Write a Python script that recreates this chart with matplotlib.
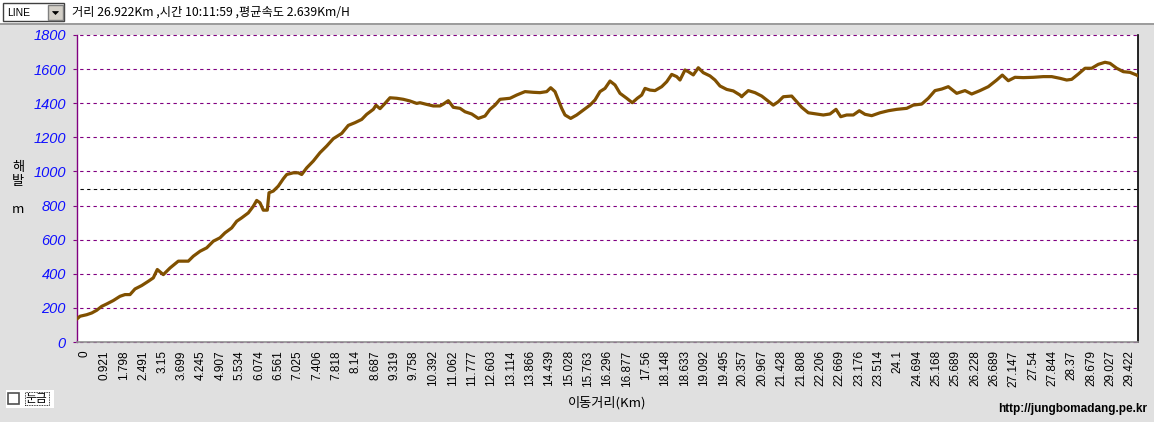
import matplotlib
matplotlib.use('Agg')
import matplotlib.pyplot as plt
from matplotlib.patches import Rectangle, Polygon
import numpy as np

W, H = 1154, 422

# ---- data ----
track_pos = [0.3, 3, 9.7, 14.7, 19.7, 24.7, 29.7, 36.3, 43, 48, 53, 58, 64.7, 71.3, 76.3, 80.3,
             86.3, 93, 101.3, 111.3, 116.3, 123, 129.7, 136.3, 143, 148, 154.7, 159.7, 164.7,
             171.3, 176.3, 179.7, 183, 186.3, 190.3, 192, 196.3, 201.3, 206.3, 209.7, 216.3,
             221.3, 224.7, 229.7, 236.3, 243, 249.7, 256.3, 264.7, 271.3, 278, 284.7, 289.7,
             296.3, 299, 303, 308, 313, 319.7, 326.3, 333, 339.7, 343,
             349.7, 356.3, 363, 366.3, 371.3, 376.3, 383, 388, 394.7, 401.3, 408, 413, 418,
             423, 433, 439.7, 448, 456.3, 463, 469.7, 473.7, 478, 481.3, 484.7, 488, 493.7,
             499.7, 506.3, 513, 518, 523, 528, 533, 538, 543, 549.7, 555.3, 560.3, 564.7,
             568, 573, 578, 584.7, 589.7, 594.7, 599.7, 603, 608, 611.3, 616.3, 621.3, 626.3,
             633, 638, 643, 649.7, 656.3, 663, 664.7, 666.3, 671.3, 678, 684.7, 689.7, 696.3,
             701.3,
             706.3, 714.7, 719.7, 724.7, 731.3, 739.7, 746.3, 753, 759, 763.7, 769.7, 776.3,
             782.3, 788, 794.7, 803, 811.3, 819.7, 829.7, 836.3, 844.7, 851.3, 858, 864.7,
             871.3, 879.7, 888, 894.7, 903, 911.3, 919.7, 925.3, 931.3, 938, 946.3, 956.3,
             966.3, 974.7, 983, 989.7, 994.7, 1001.3, 1008, 1014.7, 1021.3, 1028, 1033,
             1039.7, 1046.3, 1053, 1059.7, 1061]
elevation_m = [137, 151, 160, 170, 186, 209, 223, 243, 268, 278, 278, 311, 331, 356, 376, 425,
               395, 434, 474, 474, 503, 532, 552, 591, 611, 640, 669, 708, 728,
               757, 796, 830, 816, 773, 773, 875, 885, 914, 957, 982, 992,
               992, 982, 1021, 1061, 1110, 1149, 1192, 1223, 1270, 1286, 1305, 1335,
               1364, 1388, 1368, 1399, 1432, 1429, 1423, 1413, 1399, 1403,
               1393, 1384, 1384, 1395, 1415, 1376, 1370, 1350, 1337, 1311, 1325, 1364, 1389,
               1423, 1429, 1448, 1468, 1464, 1462, 1468, 1491, 1468, 1419, 1370, 1331, 1311,
               1331, 1360, 1389, 1419, 1468, 1487, 1530, 1507, 1458, 1429, 1403, 1429, 1448,
               1487, 1477, 1474, 1497, 1526, 1569, 1556, 1536, 1595, 1585, 1566, 1608, 1579,
               1560, 1536, 1501, 1481, 1472, 1448, 1438, 1448, 1474, 1462, 1442, 1419, 1389,
               1409,
               1438, 1442, 1409, 1376, 1344, 1337, 1331, 1337, 1364, 1321, 1331, 1331,
               1356, 1335, 1327, 1344, 1356, 1364, 1370, 1389, 1395, 1429, 1474, 1483,
               1497, 1458, 1474, 1454, 1474, 1497, 1536, 1565, 1532, 1552, 1550, 1552,
               1556, 1556, 1546, 1536, 1540, 1571, 1605, 1605, 1628, 1640, 1634,
               1605, 1585, 1581, 1565, 1560]
distance_labels = ['0', '0.921', '1.798', '2.491', '3.15', '3.699', '4.245', '4.907', '5.534',
                   '6.074', '6.561', '7.025', '7.406', '7.818', '8.14', '8.687', '9.319', '9.758',
                   '10.392', '11.062', '11.777', '12.603', '13.114', '13.866', '14.439', '15.028',
                   '15.763', '16.296', '16.877', '17.56', '18.148', '18.633', '19.092', '19.495',
                   '20.357', '20.967', '21.428', '21.808', '22.206', '22.669', '23.176', '23.514',
                   '24.1', '24.694', '25.168', '25.689', '26.228', '26.689', '27.147', '27.54',
                   '27.844', '28.37', '28.679', '29.027', '29.422']
y_ticks = [0, 200, 400, 600, 800, 1000, 1200, 1400, 1600, 1800]
ref_level = 900

status_text = '거리 26.922Km ,시간 10:11:59 ,평균속도 2.639Km/H'

# ---- figure ----
fig = plt.figure(figsize=(W / 100, H / 100), dpi=100)
fig.patch.set_facecolor('#e0e0e0')

def fx(px):
    return px / W

def fy(py):
    return 1 - py / H

KR = ['Noto Sans CJK KR', 'DejaVu Sans']

# top bar
fig.add_artist(Rectangle((0, fy(23)), 1, 23 / H, transform=fig.transFigure,
                         facecolor='white', edgecolor='none'))
fig.add_artist(plt.Line2D([0, 1], [fy(23.5), fy(23.5)], transform=fig.transFigure,
                          color='#909090', lw=1.2))
# combobox
fig.add_artist(Rectangle((fx(3), fy(21)), fx(61), 18 / H, transform=fig.transFigure,
                         facecolor='white', edgecolor='#404040', lw=1))
fig.text(fx(7), fy(12.5), 'LINE', fontsize=7.5, family='Liberation Sans', va='center', ha='left')
fig.add_artist(Rectangle((fx(48), fy(20)), fx(15), 15 / H, transform=fig.transFigure,
                         facecolor='#d4d0c8', edgecolor='#808080', lw=1))
fig.add_artist(Polygon([[fx(52.5), fy(11.5)], [fx(58.5), fy(11.5)], [fx(55.5), fy(14.5)]],
                       closed=True, transform=fig.transFigure, facecolor='black',
                       edgecolor='black', lw=0.5))
fig.text(fx(72), fy(12.5), status_text, fontsize=8.8, family=KR, va='center', ha='left')

# axes
ax = fig.add_axes([fx(77), (H - 342) / H, (1138 - 77) / W, (342 - 35) / H])
ax.set_facecolor('white')
ax.set_xlim(0, 1061)
ax.set_ylim(0, 1800)

for v in y_ticks:
    ax.axhline(v, xmin=-4 / 1061, xmax=1, color='#800080', lw=0.8,
               ls=(0, (3, 3)), clip_on=False, zorder=1)
ax.axhline(ref_level, xmin=3 / 1061, xmax=1, color='black', lw=0.8,
           ls=(0, (3, 3)), zorder=1)

ax.plot(track_pos, elevation_m, color='#805000', lw=2.3, zorder=3)

for s in ['top']:
    ax.spines[s].set_visible(False)
ax.spines['left'].set_color('#800080')
ax.spines['left'].set_linewidth(1.0)
ax.spines['bottom'].set_color('#909090')
ax.spines['bottom'].set_linewidth(1.2)
ax.spines['right'].set_color('black')
ax.spines['right'].set_linewidth(1.2)

ax.set_yticks(y_ticks)
ax.set_yticklabels([str(v) for v in y_ticks], color='#1010ff', style='italic',
                   family='Liberation Sans', fontsize=10.5)
ax.tick_params(axis='y', length=0, pad=8)

tick_pos = 8 + 19.35 * np.arange(len(distance_labels))
ax.set_xticks(tick_pos)
ax.set_xticklabels(distance_labels, rotation=90, family='Liberation Sans', fontsize=8.5,
                   va='top', ha='center')
ax.tick_params(axis='x', length=0, pad=6)

# axis titles
fig.text(fx(18), fy(168), '해', fontsize=9.5, family=KR, ha='center', va='center')
fig.text(fx(18), fy(182), '발', fontsize=9.5, family=KR, ha='center', va='center')
fig.text(fx(18), fy(210), 'm', fontsize=9.5, family=KR, ha='center', va='center')
fig.text(fx(607), fy(403), '이동거리(Km)', fontsize=9.5, family=KR, ha='center', va='center')

# url
fig.text(fx(1147), fy(409), 'http://jungbomadang.pe.kr', fontsize=8.5, weight='bold',
         family='Liberation Sans', ha='right', va='center')

# checkbox
fig.add_artist(Rectangle((fx(6), fy(408)), fx(48), 18 / H, transform=fig.transFigure,
                         facecolor='white', edgecolor='none'))
fig.add_artist(Rectangle((fx(8), fy(404)), fx(11), 11 / H, transform=fig.transFigure,
                         facecolor='white', edgecolor='#505050', lw=1.2))
fig.add_artist(Rectangle((fx(24.5), fy(405)), fx(24), 13 / H, transform=fig.transFigure,
                         facecolor='none', edgecolor='black', lw=0.6, ls=(0, (1, 1))))
fig.text(fx(36.5), fy(398.5), '눈금', fontsize=8.5, family=KR, ha='center', va='center')

fig.savefig('out.png', dpi=100, facecolor=fig.get_facecolor())
